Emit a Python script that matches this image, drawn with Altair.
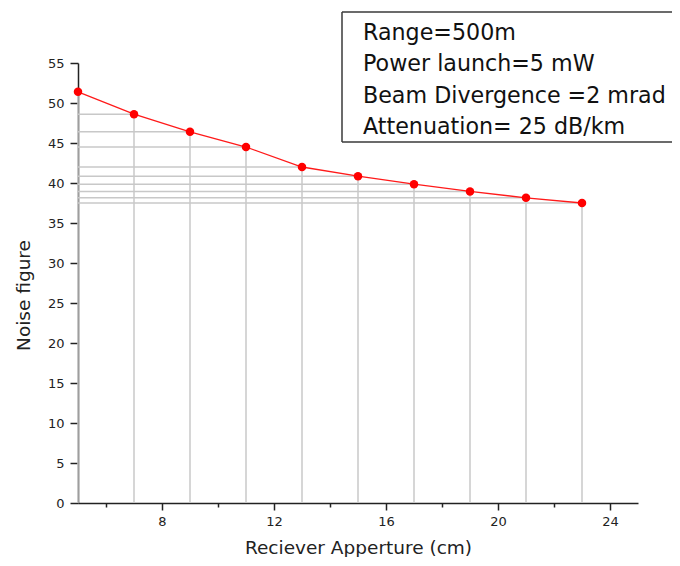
import altair as alt
import pandas as pd

# Data
aperture = [5, 7, 9, 11, 13, 15, 17, 19, 21, 23]
noise_fig = [51.4, 48.6, 46.4, 44.5, 42.0, 40.85, 39.85, 38.95, 38.15, 37.5]
x_major = [8, 12, 16, 20, 24]
x_minor = [6, 10, 14, 18, 22]
y_ticks = [0, 5, 10, 15, 20, 25, 30, 35, 40, 45, 50, 55]
info_lines = ["Range=500m", "Power launch=5 mW", "Beam Divergence =2 mrad", "Attenuation= 25 dB/km"]

df = pd.DataFrame({"x": aperture, "nf": noise_fig})

FONT = "DejaVu Sans"

x_scale = alt.Scale(domain=[5, 25], nice=False, zero=False)
y_scale = alt.Scale(domain=[0, 55], nice=False)

x_axis = alt.Axis(
    values=x_major,
    tickSize=7,
    grid=False, orient="bottom",
    labelFontSize=13, labelPadding=5, labelOverlap=False,
    title="Reciever Apperture (cm)",
    titleY=50, titleBaseline="alphabetic",
)
x_minor_axis = alt.Axis(
    values=x_minor, tickSize=4, grid=False, orient="bottom",
    domain=False, labels=False, title=None,
)
y_axis = alt.Axis(
    values=y_ticks,
    tickSize=8,
    grid=False,
    labelFontSize=13, labelPadding=6, labelOverlap=False,
    title="Noise figure",
    titleX=-55, titleY=232, titleAngle=270, titleAlign="center", titleBaseline="middle",
)

base = alt.Chart(df)

vdrop = base.mark_rule(color="#c8c8c8", strokeWidth=1.5).encode(
    x=alt.X("x:Q", scale=x_scale, axis=x_axis),
    y=alt.Y("nf:Q", scale=y_scale, axis=y_axis),
    y2=alt.Y2("zero:Q"),
).transform_calculate(zero="0")
hdrop = base.mark_rule(color="#c8c8c8", strokeWidth=1.5).encode(
    x=alt.X("left:Q", scale=x_scale, axis=x_minor_axis),
    x2="x:Q",
    y=alt.Y("nf:Q", scale=y_scale, axis=y_axis),
).transform_calculate(left="5")
line = base.mark_line(color="#ff1a1a", strokeWidth=1.3).encode(
    x=alt.X("x:Q", scale=x_scale, axis=None), y=alt.Y("nf:Q", scale=y_scale, axis=y_axis))
pts = base.mark_circle(color="#ff0000", size=72, opacity=1).encode(
    x=alt.X("x:Q", scale=x_scale, axis=None), y=alt.Y("nf:Q", scale=y_scale, axis=y_axis))

box_df = pd.DataFrame({"k": [0]})
box = alt.Chart(box_df).mark_rect(fill="white", strokeWidth=0).encode(
    x=alt.value(264), x2=alt.value(620), y=alt.value(-51), y2=alt.value(79)
)
edge = dict(color="#3a3a3a", strokeWidth=1.5)
box_top = alt.Chart(box_df).mark_rule(**edge).encode(
    x=alt.value(264), x2=alt.value(620), y=alt.value(-51))
box_bottom = alt.Chart(box_df).mark_rule(**edge).encode(
    x=alt.value(264), x2=alt.value(620), y=alt.value(79))
box_left = alt.Chart(box_df).mark_rule(**edge).encode(
    x=alt.value(264), y=alt.value(-51), y2=alt.value(79))
txt = alt.Chart(box_df).mark_text(
    text=info_lines, align="left", baseline="middle", lineHeight=31.3,
    font=FONT, fontSize=22.2, color="#111111",
).encode(x=alt.value(285), y=alt.value(-30))

chart = (
    alt.layer(vdrop, hdrop, line, pts, box, box_top, box_bottom, box_left, txt)
    .resolve_axis(x="independent")
    .properties(
        width=560, height=440,
        autosize=alt.AutoSizeParams(type="none"),
        padding={"left": 70, "top": 55, "right": 34, "bottom": 54},
        background="white",
    )
    .configure_view(stroke=None)
    .configure_axis(
        domainColor="#222222", domainWidth=1.5,
        tickColor="#222222", tickWidth=1.5,
        labelFont=FONT, labelFontSize=13, labelColor="#222222",
        titleFont=FONT, titleFontSize=18.5, titleFontWeight="normal", titleColor="#222222",
    )
)

chart.save("out.html", embed_options={"renderer": "svg", "actions": False})
